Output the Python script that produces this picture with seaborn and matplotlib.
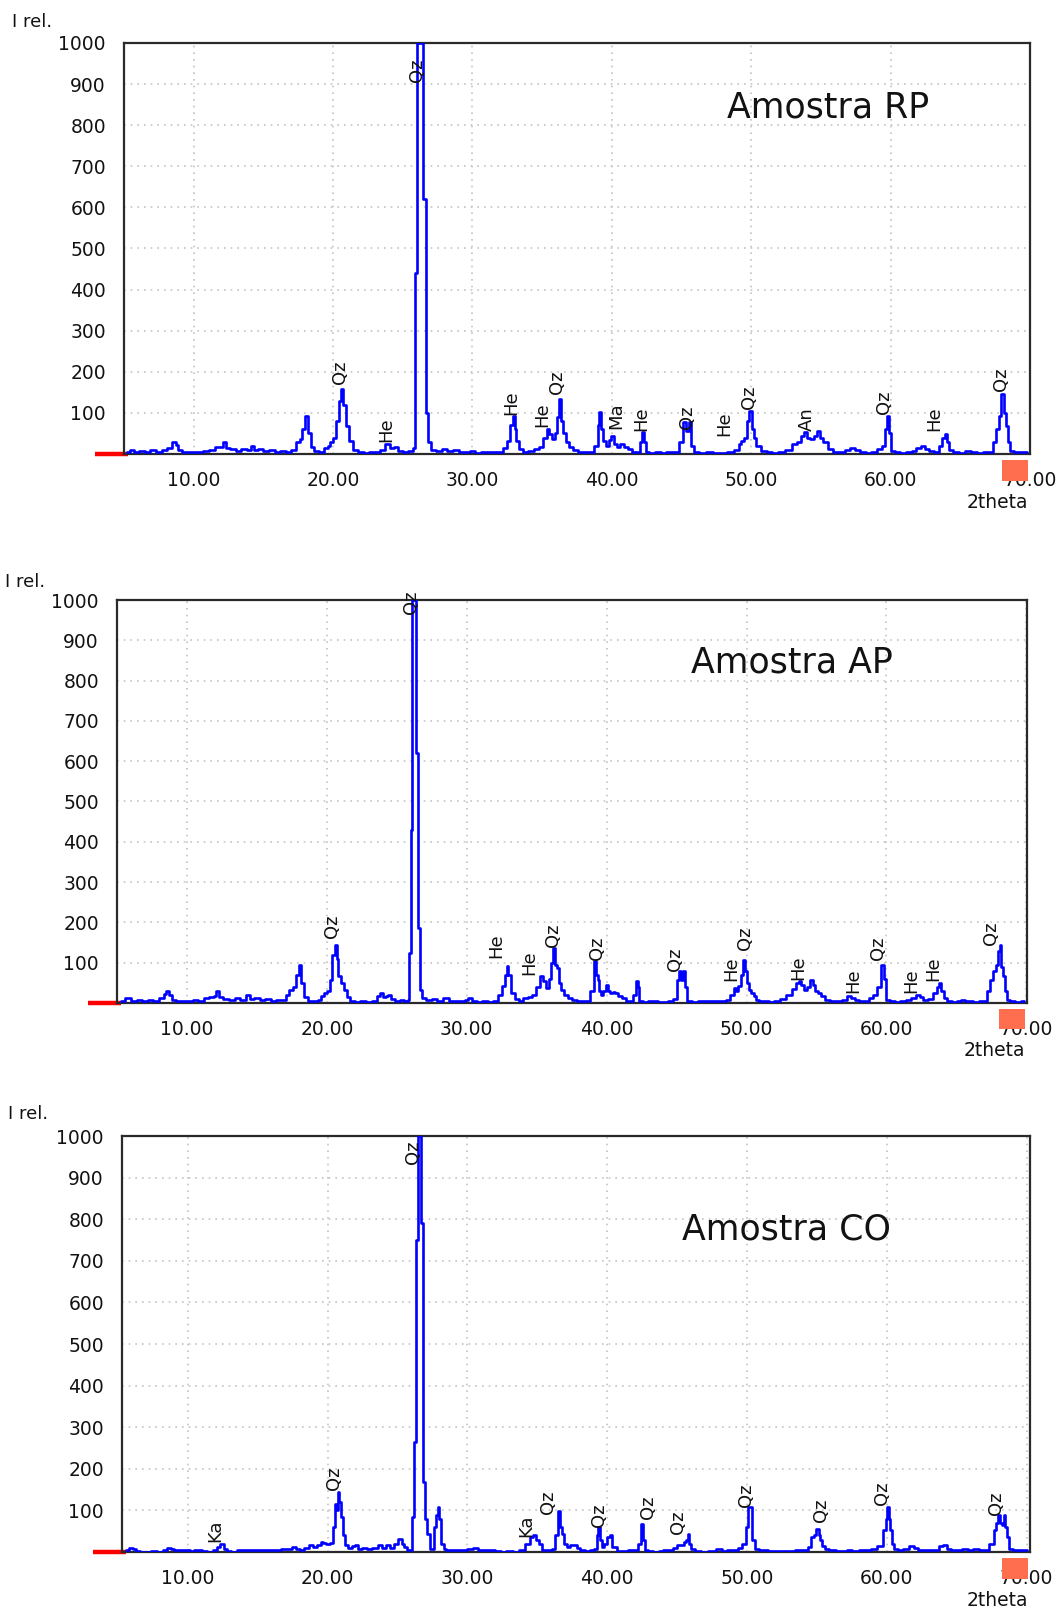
import matplotlib
matplotlib.use("Agg")
import matplotlib.pyplot as plt
import pandas as pd
import seaborn as sns
from matplotlib.patches import Rectangle
from matplotlib.transforms import offset_copy

# ---------------------------------------------------------------------------
# Diffraction profiles: (2theta, relative intensity)
# ---------------------------------------------------------------------------
rp_profile = [
    (5.2, 4), (5.6, 10), (5.9, 6), (6.3, 8), (6.7, 6), (7.1, 9), (7.5, 6), (7.9, 10),
    (8.3, 14), (8.6, 28), (8.8, 22), (9.0, 10), (9.3, 6), (9.7, 4), (10.1, 6), (10.5, 4),
    (10.9, 8), (11.3, 10), (11.7, 16), (12.0, 18), (12.2, 28), (12.4, 14), (12.8, 12),
    (13.2, 8), (13.6, 12), (14.0, 10), (14.2, 20), (14.4, 10), (14.8, 12), (15.2, 8),
    (15.6, 10), (16.0, 6), (16.4, 8), (16.8, 6), (17.2, 10), (17.5, 28), (17.7, 36),
    (17.9, 60), (18.1, 93), (18.3, 50), (18.5, 18), (18.8, 8), (19.2, 6), (19.5, 14),
    (19.7, 20), (19.9, 28), (20.1, 40), (20.3, 81), (20.5, 130), (20.66, 158), (20.8, 120),
    (21.0, 69), (21.3, 32), (21.6, 10), (22.0, 4), (22.4, 2), (22.8, 4), (23.2, 6),
    (23.6, 10), (23.9, 24), (24.2, 14), (24.5, 18), (24.8, 8), (25.2, 6), (25.6, 8),
    (25.85, 15), (25.95, 440), (26.15, 1000), (26.4, 1000), (26.5, 620), (26.62, 620),
    (26.72, 100), (26.85, 30), (27.2, 10), (27.6, 8), (28.0, 12), (28.4, 8), (28.8, 10),
    (29.2, 6), (29.6, 4), (30.0, 8), (30.4, 2), (30.8, 4), (31.2, 6), (31.6, 4), (32.0, 6),
    (32.4, 14), (32.6, 32), (32.8, 70), (32.96, 93), (33.1, 60), (33.2, 32), (33.5, 12),
    (33.8, 6), (34.2, 8), (34.6, 12), (34.9, 16), (35.2, 40), (35.45, 61), (35.6, 48),
    (35.8, 36), (36.0, 50), (36.15, 90), (36.3, 134), (36.45, 80), (36.6, 50), (36.8, 30),
    (37.0, 16), (37.4, 10), (37.8, 6), (38.2, 4), (38.6, 6), (38.9, 20), (39.05, 70),
    (39.15, 101), (39.3, 60), (39.5, 32), (39.7, 20), (39.9, 35), (40.05, 45), (40.25, 25),
    (40.5, 18), (40.7, 24), (41.0, 16), (41.3, 12), (41.6, 6), (41.9, 4), (42.1, 30),
    (42.23, 53), (42.35, 30), (42.5, 6), (42.9, 2), (43.3, 4), (43.7, 2), (44.1, 4),
    (44.6, 6), (45.0, 30), (45.2, 77), (45.4, 55), (45.6, 77), (45.8, 20), (46.0, 4),
    (46.5, 2), (47.0, 4), (47.5, 2), (48.0, 2), (48.5, 4), (49.0, 10), (49.2, 24),
    (49.35, 32), (49.55, 40), (49.8, 80), (49.94, 105), (50.1, 60), (50.25, 40), (50.5, 20),
    (50.9, 8), (51.3, 4), (51.7, 2), (52.2, 4), (52.7, 10), (53.1, 24), (53.4, 30),
    (53.7, 45), (53.87, 53), (54.1, 40), (54.4, 36), (54.6, 45), (54.8, 57), (55.0, 40),
    (55.3, 28), (55.7, 12), (56.1, 6), (56.5, 4), (56.9, 10), (57.24, 15), (57.6, 10),
    (58.0, 4), (58.4, 2), (58.8, 6), (59.2, 12), (59.5, 20), (59.7, 60), (59.82, 93),
    (59.95, 50), (60.1, 8), (60.5, 4), (60.9, 2), (61.3, 4), (61.7, 8), (62.0, 14),
    (62.3, 20), (62.6, 12), (62.9, 8), (63.3, 6), (63.6, 20), (63.8, 40), (63.96, 49),
    (64.1, 30), (64.3, 10), (64.7, 4), (65.1, 2), (65.6, 8), (66.0, 6), (66.4, 2),
    (66.8, 4), (67.2, 6), (67.5, 30), (67.65, 61), (67.85, 93), (68.05, 146), (68.2, 100),
    (68.35, 69), (68.5, 30), (68.65, 8), (69.0, 4), (69.4, 6), (69.8, 4),
]

ap_profile = [
    (5.3, 4), (5.86, 12), (6.2, 6), (6.6, 8), (7.0, 6), (7.4, 8), (7.8, 6), (8.2, 12),
    (8.45, 22), (8.62, 29), (8.8, 20), (9.0, 8), (9.4, 6), (9.8, 4), (10.2, 6), (10.6, 8),
    (11.0, 6), (11.4, 12), (11.8, 14), (12.0, 18), (12.19, 29), (12.4, 14), (12.8, 10),
    (13.2, 8), (13.6, 12), (14.0, 8), (14.4, 20), (14.6, 10), (15.0, 12), (15.4, 8),
    (15.8, 10), (16.2, 6), (16.6, 8), (17.0, 8), (17.2, 20), (17.43, 33), (17.7, 40),
    (17.9, 70), (18.09, 95), (18.25, 50), (18.45, 15), (18.8, 6), (19.2, 4), (19.5, 8),
    (19.7, 18), (19.93, 25), (20.1, 30), (20.29, 58), (20.5, 120), (20.64, 145),
    (20.75, 110), (20.9, 66), (21.1, 50), (21.3, 33), (21.55, 15), (21.8, 4), (22.2, 2),
    (22.6, 4), (23.0, 2), (23.4, 6), (23.7, 18), (23.86, 25), (24.1, 14), (24.3, 18),
    (24.5, 21), (24.7, 10), (25.0, 6), (25.4, 8), (25.7, 6), (25.85, 8), (25.95, 124),
    (26.05, 430), (26.15, 1000), (26.35, 1000), (26.45, 620), (26.6, 186), (26.7, 33),
    (26.9, 12), (27.3, 8), (27.7, 10), (28.1, 6), (28.5, 12), (28.9, 6), (29.3, 4),
    (29.7, 6), (30.0, 8), (30.2, 12), (30.5, 4), (30.9, 2), (31.3, 4), (31.7, 2), (32.1, 6),
    (32.4, 20), (32.7, 41), (32.8, 70), (32.9, 93), (33.05, 70), (33.3, 25), (33.6, 10),
    (33.9, 6), (34.2, 12), (34.5, 16), (34.8, 21), (35.1, 40), (35.4, 66), (35.55, 55),
    (35.76, 37), (35.95, 60), (36.1, 100), (36.24, 136), (36.4, 95), (36.5, 87),
    (36.65, 50), (36.86, 33), (37.1, 20), (37.4, 12), (37.7, 8), (38.0, 4), (38.4, 4),
    (38.7, 6), (38.95, 30), (39.18, 103), (39.3, 70), (39.4, 58), (39.55, 30), (39.7, 21),
    (39.85, 30), (40.03, 45), (40.2, 30), (40.35, 25), (40.5, 28), (40.7, 25), (40.95, 18),
    (41.2, 12), (41.5, 6), (41.8, 4), (42.0, 20), (42.18, 54), (42.3, 40), (42.4, 4),
    (42.8, 2), (43.1, 4), (43.5, 4), (43.8, 2), (44.2, 2), (44.6, 4), (44.9, 10),
    (45.1, 58), (45.25, 79), (45.4, 58), (45.55, 79), (45.7, 40), (45.85, 4), (46.3, 2),
    (46.8, 4), (47.3, 4), (47.8, 4), (48.3, 4), (48.7, 8), (49.0, 20), (49.2, 37),
    (49.35, 30), (49.5, 41), (49.7, 70), (49.85, 107), (49.96, 80), (50.1, 50), (50.2, 33),
    (50.4, 25), (50.6, 17), (50.8, 8), (51.0, 4), (51.4, 4), (51.8, 2), (52.2, 4),
    (52.6, 10), (53.06, 21), (53.4, 35), (53.65, 50), (53.8, 54), (54.0, 45), (54.2, 33),
    (54.4, 40), (54.64, 58), (54.8, 45), (55.0, 29), (55.2, 25), (55.4, 17), (55.8, 8),
    (56.2, 4), (56.6, 6), (57.0, 8), (57.32, 17), (57.6, 12), (57.9, 8), (58.2, 4),
    (58.6, 6), (58.9, 12), (59.2, 21), (59.5, 40), (59.76, 95), (59.9, 60), (60.05, 8),
    (60.4, 4), (60.8, 2), (61.2, 4), (61.6, 8), (61.9, 12), (62.3, 21), (62.5, 14),
    (62.8, 8), (63.2, 10), (63.5, 25), (63.7, 40), (63.84, 50), (64.0, 30), (64.2, 12),
    (64.5, 4), (64.9, 2), (65.2, 4), (65.5, 8), (65.8, 6), (66.0, 4), (66.4, 2), (66.8, 4),
    (67.1, 6), (67.3, 30), (67.5, 58), (67.7, 80), (67.9, 95), (68.05, 130), (68.14, 145),
    (68.25, 90), (68.4, 66), (68.55, 30), (68.7, 8), (69.0, 4), (69.4, 2), (69.8, 4),
]

co_profile = [
    (5.6, 4), (6.0, 10), (6.2, 8), (6.4, 2), (6.8, 0), (7.2, 0), (7.6, 2), (8.0, 0),
    (8.4, 6), (8.64, 10), (8.9, 8), (9.2, 6), (9.6, 4), (10.0, 4), (10.3, 2), (10.55, 6),
    (10.8, 4), (11.2, 2), (11.6, 0), (12.0, 4), (12.2, 12), (12.46, 20), (12.7, 8),
    (12.9, 2), (13.3, 0), (13.7, 4), (14.1, 4), (14.5, 6), (14.9, 4), (15.3, 6), (15.7, 4),
    (16.1, 6), (16.5, 4), (16.9, 8), (17.3, 8), (17.6, 12), (17.9, 8), (18.2, 6),
    (18.5, 10), (18.8, 16), (19.1, 12), (19.4, 18), (19.62, 24), (19.8, 22), (20.0, 20),
    (20.3, 22), (20.5, 60), (20.6, 116), (20.72, 100), (20.81, 144), (20.9, 120),
    (21.0, 84), (21.15, 40), (21.3, 16), (21.6, 10), (21.87, 14), (22.1, 18), (22.3, 8),
    (22.6, 10), (23.0, 8), (23.4, 10), (23.8, 16), (24.0, 10), (24.3, 18), (24.6, 10),
    (24.9, 20), (25.23, 32), (25.4, 20), (25.6, 12), (25.8, 6), (26.0, 4), (26.15, 84),
    (26.28, 264), (26.4, 750), (26.5, 1000), (26.62, 1000), (26.7, 790), (26.8, 790),
    (26.9, 168), (27.05, 80), (27.2, 44), (27.5, 8), (27.7, 60), (27.85, 90), (27.97, 108),
    (28.05, 80), (28.2, 20), (28.4, 8), (28.6, 4), (29.0, 6), (29.4, 4), (29.8, 6),
    (30.2, 8), (30.6, 10), (30.9, 6), (31.4, 6), (31.8, 4), (32.2, 2), (32.6, 0), (33.0, 2),
    (33.5, 0), (33.94, 4), (34.3, 20), (34.6, 36), (34.8, 40), (35.0, 30), (35.2, 20),
    (35.5, 4), (35.9, 6), (36.2, 8), (36.4, 40), (36.6, 99), (36.7, 60), (36.8, 44),
    (37.0, 20), (37.2, 12), (37.5, 16), (37.7, 18), (37.95, 10), (38.2, 4), (38.6, 2),
    (38.9, 4), (39.23, 8), (39.35, 40), (39.41, 60), (39.55, 30), (39.7, 12), (39.9, 20),
    (40.1, 36), (40.26, 40), (40.5, 12), (40.9, 2), (41.3, 2), (41.7, 4), (42.1, 4),
    (42.35, 20), (42.51, 68), (42.65, 30), (42.8, 6), (43.1, 2), (43.5, 0), (43.9, 2),
    (44.1, 4), (44.5, 6), (44.9, 10), (45.17, 16), (45.4, 18), (45.55, 24), (45.7, 30),
    (45.82, 44), (45.95, 20), (46.05, 8), (46.5, 2), (47.0, 0), (47.5, 2), (48.1, 8),
    (48.4, 2), (48.8, 4), (49.2, 6), (49.5, 10), (49.83, 20), (50.05, 60), (50.15, 107),
    (50.35, 107), (50.45, 28), (50.7, 8), (51.0, 4), (51.35, 6), (51.7, 2), (52.2, 2),
    (52.7, 2), (53.2, 2), (53.7, 4), (54.2, 6), (54.5, 12), (54.74, 36), (54.9, 40),
    (55.05, 56), (55.2, 40), (55.3, 28), (55.5, 14), (55.7, 8), (56.1, 4), (56.6, 2),
    (57.0, 2), (57.3, 4), (57.8, 2), (58.3, 4), (58.7, 6), (59.1, 8), (59.5, 14),
    (59.9, 52), (60.0, 80), (60.09, 107), (60.2, 80), (60.3, 52), (60.45, 20), (60.6, 8),
    (61.0, 6), (61.4, 8), (61.84, 14), (62.1, 10), (62.4, 6), (62.8, 4), (63.2, 6),
    (63.6, 6), (63.9, 14), (64.17, 16), (64.4, 8), (64.8, 6), (65.2, 6), (65.6, 8),
    (66.0, 6), (66.4, 8), (66.8, 6), (67.2, 6), (67.5, 20), (67.79, 52), (67.9, 70),
    (68.05, 88), (68.18, 70), (68.3, 64), (68.44, 88), (68.55, 60), (68.7, 36), (68.8, 8),
    (69.2, 6), (69.6, 6), (70.0, 4),
]

# Phase identifications: (label, 2theta, intensity at label base)
rp_phases = [
    ("Qz", 20.5, 170), ("He", 23.8, 28), ("Qz", 26.05, 905), ("He", 32.8, 95),
    ("He", 35.0, 65), ("Qz", 36.1, 146), ("Ma", 40.3, 61), ("He", 42.1, 57),
    ("Qz", 45.4, 61), ("He", 48.1, 45), ("Qz", 49.85, 110), ("An", 54.0, 57),
    ("Qz", 59.5, 97), ("He", 63.1, 57), ("Qz", 67.9, 154),
]
ap_phases = [
    ("Qz", 20.4, 161), ("Qz", 26.0, 965), ("He", 32.1, 112), ("He", 34.5, 70),
    ("Qz", 36.2, 138), ("Qz", 39.3, 107), ("Qz", 44.9, 79), ("He", 48.9, 54),
    ("Qz", 49.9, 132), ("He", 53.7, 58), ("He", 57.6, 25), ("Qz", 59.4, 107),
    ("He", 61.8, 25), ("He", 63.35, 54), ("Qz", 67.5, 145),
]
co_phases = [
    ("Ka", 12.0, 24), ("Qz", 20.5, 148), ("Qz", 26.1, 932), ("Ka", 34.25, 36),
    ("Qz", 35.8, 92), ("Qz", 39.4, 60), ("Qz", 42.9, 80), ("Qz", 45.1, 44),
    ("Qz", 49.96, 108), ("Qz", 55.3, 72), ("Qz", 59.65, 112), ("Qz", 67.8, 88),
]

sample_names = ["Amostra RP", "Amostra AP", "Amostra CO"]
x_ticks = [10, 20, 30, 40, 50, 60, 70]
x_tick_labels = ["10.00", "20.00", "30.00", "40.00", "50.00", "60.00", "70.00"]
y_ticks = [0, 100, 200, 300, 400, 500, 600, 700, 800, 900, 1000]
y_tick_labels = [""] + [str(v) for v in y_ticks[1:]]

# ---------------------------------------------------------------------------
# Figure
# ---------------------------------------------------------------------------
sns.set_theme(style="white")
plt.rcParams["font.family"] = ["DejaVu Sans"]

W, H = 1063, 1610
fig = plt.figure(figsize=(W / 100, H / 100), dpi=100)
fig.patch.set_facecolor("white")

text_color = "#121212"
panels = [
    dict(profile=rp_profile, phases=rp_phases, name=sample_names[0],
         rect=[124 / W, 1 - 454 / H, 906 / W, 411 / H], xlim=(5.0, 70.0),
         title_pos=(0.777, 0.842), irel=(-112, 21)),
    dict(profile=ap_profile, phases=ap_phases, name=sample_names[1],
         rect=[117 / W, 1 - 1003 / H, 910 / W, 403 / H], xlim=(5.0, 70.05),
         title_pos=(0.742, 0.846), irel=(-112, 18)),
    dict(profile=co_profile, phases=co_phases, name=sample_names[2],
         rect=[122 / W, 1 - 1552 / H, 908 / W, 416 / H], xlim=(5.3, 70.25),
         title_pos=(0.732, 0.776), irel=(-114, 22)),
]

for p in panels:
    ax = fig.add_axes(p["rect"])
    df = pd.DataFrame(p["profile"], columns=["2theta", "I"])
    sns.lineplot(data=df, x="2theta", y="I", ax=ax, color="#0000ff",
                 linewidth=1.9, estimator=None, sort=False, zorder=3,
                 drawstyle="steps-mid")

    ax.set_xlim(*p["xlim"])
    ax.set_ylim(0, 1000)
    ax.set_xticks(x_ticks)
    ax.set_xticklabels(x_tick_labels)
    ax.set_yticks(y_ticks)
    ax.set_yticklabels(y_tick_labels)
    ax.set_xlabel("")
    ax.set_ylabel("")
    ax.tick_params(axis="both", direction="out", length=8, width=1.5,
                   color="#222222", labelcolor=text_color, labelsize=13.5)
    ax.tick_params(axis="y", pad=5)
    ax.tick_params(axis="x", pad=4)
    ax.grid(True, color="#c4c4c4", linestyle=(0, (1, 3)), linewidth=1.2)
    for s in ax.spines.values():
        s.set_visible(True)
        s.set_color("#2a2a2a")
        s.set_linewidth(1.6)

    # red zero marker left of the intensity axis
    ax.plot([-0.032, 0.004], [0, 0], transform=ax.transAxes, color="#ff0000",
            linewidth=3.2, clip_on=False, zorder=2, solid_capstyle="butt")
    # orange scan-end marker under the right end of the 2theta axis
    ax.add_patch(Rectangle((1 - 28 / 906, -27 / 411), 26 / 906, 21 / 411,
                           transform=ax.transAxes, facecolor="#ff6f4f",
                           edgecolor="none", clip_on=False, zorder=10))

    # phase labels
    for lab, tx, ty in p["phases"]:
        ax.text(tx, ty, lab, rotation=90, ha="center", va="bottom",
                fontsize=13, color=text_color, zorder=5, clip_on=False)

    ax.text(p["title_pos"][0], p["title_pos"][1], p["name"],
            transform=ax.transAxes, ha="center", va="center",
            fontsize=25, color=text_color)

    dx, dy = p["irel"]
    ax.text(0, 1, "I rel.", transform=offset_copy(ax.transAxes, fig=fig,
            x=dx, y=dy, units="dots"), ha="left", va="center",
            fontsize=13, color=text_color)
    ax.text(1, 0, "2theta", transform=offset_copy(ax.transAxes, fig=fig,
            x=-2, y=-48, units="dots"), ha="right", va="center",
            fontsize=13.5, color=text_color)

fig.savefig("out.png", dpi=100, facecolor="white")
